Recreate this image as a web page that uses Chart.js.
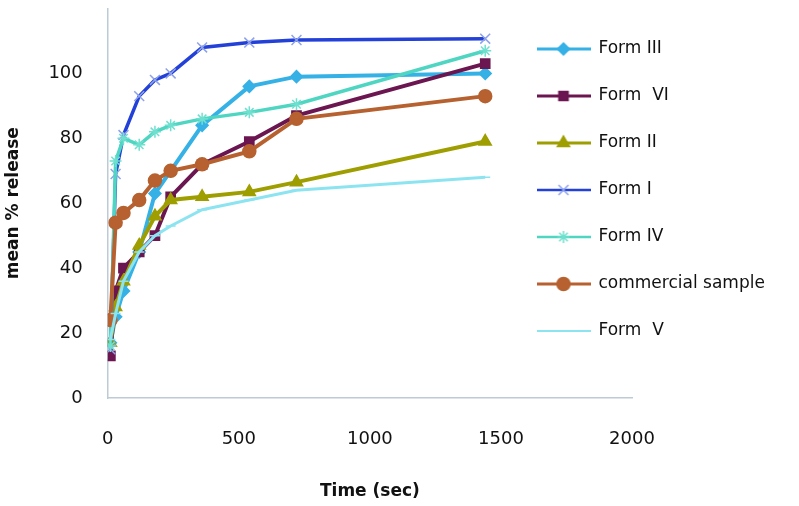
<!DOCTYPE html>
<html>
<head>
<meta charset="utf-8">
<script src="https://cdn.jsdelivr.net/npm/chart.js@4.4.1/dist/chart.umd.min.js"></script>
<style>
  html, body { margin: 0; padding: 0; background: #fff; }
</style>
</head>
<body>
<canvas id="release-chart" width="799" height="506"></canvas>
<script>
// sampling times (sec)
const times = [10, 30, 60, 120, 180, 240, 360, 540, 720, 1440];

// mean % release per form
const formIII = [17, 25, 33, 45, 63, 70, 84, 96, 99, 100];
const formVI = [13, 33, 40, 45, 50, 62, 72, 79, 87, 103];
const formII = [17, 28, 36, 47, 56, 61, 62, 63.5, 66.5, 79];
const formI = [15, 69, 81, 93, 98, 100, 108, 109.5, 110.3, 110.7];
const formIV = [16, 73, 80, 78, 82, 84, 86, 88, 90.5, 107];
const commercial = [24, 54, 57, 61, 67, 70, 72, 76, 86, 93];
const formV = [18, 26, 36, 45, 50, 53, 58, 61, 64, 68];

const seriesNames = ['Form III', 'Form  VI', 'Form II', 'Form I', 'Form IV', 'commercial sample', 'Form  V'];
const seriesValues = [formIII, formVI, formII, formI, formIV, commercial, formV];
const xTicks = [0, 500, 1000, 1500, 2000];
const yTicks = [0, 20, 40, 60, 80, 100];

const looks = [
  { color: '#35b1e6', point: 'rectRot', r: 6, width: 4 },
  { color: '#6b1650', point: 'rect', r: 6.5, width: 4 },
  { color: '#9e9e00', point: 'triangle', r: 7, width: 4 },
  { color: '#2341d8', point: 'crossRot', r: 7, width: 3.5, pointColor: '#8ea2ea' },
  { color: '#4fd6c2', point: 'star', r: 6, width: 3.5, pointColor: '#6fe0cf' },
  { color: '#b6612f', point: 'circle', r: 6.5, width: 4 },
  { color: '#8de4f1', point: 'line', r: 5, width: 3 },
];

// legend icon: line with the marker in the middle
function makeIcon(look) {
  const c = document.createElement('canvas');
  c.width = 54;
  c.height = 20;
  const g = c.getContext('2d');
  g.strokeStyle = look.color;
  g.lineWidth = look.width - 1;
  g.beginPath();
  g.moveTo(0, 10);
  g.lineTo(54, 10);
  g.stroke();
  g.fillStyle = look.pointColor || look.color;
  g.strokeStyle = look.pointColor || look.color;
  g.lineWidth = 1.5;
  Chart.helpers.drawPoint(g, { pointStyle: look.point, radius: look.r, borderWidth: 1.5, rotation: 0 }, 27, 10);
  return c;
}
const icons = looks.map(makeIcon);

const datasets = seriesNames.map((name, i) => ({
  label: name,
  data: times.map((t, j) => ({ x: t, y: seriesValues[i][j] })),
  borderColor: looks[i].color,
  backgroundColor: looks[i].pointColor || looks[i].color,
  pointBorderColor: looks[i].pointColor || looks[i].color,
  pointBackgroundColor: looks[i].pointColor || looks[i].color,
  borderWidth: looks[i].width,
  pointStyle: looks[i].point,
  pointRadius: looks[i].r,
  pointBorderWidth: 1.5,
  tension: 0,
  order: seriesNames.length - i,
}));

// legend sits over the right part of the plot, like the original
const moveLegend = {
  id: 'moveLegend',
  afterLayout(chart) {
    const lg = chart.legend;
    lg.left = 507;
    lg.right = 799;
    lg.width = 292;
    lg.top = chart.chartArea.top + 2;
    lg.bottom = 506;
    lg.height = lg.bottom - lg.top;
  },
};

new Chart(document.getElementById('release-chart'), {
  type: 'line',
  data: { datasets },
  plugins: [moveLegend],
  options: {
    responsive: false,
    animation: false,
    devicePixelRatio: 1,
    layout: { padding: { top: 0, right: 167, bottom: 0, left: 0 } },
    plugins: {
      tooltip: { enabled: false },
      legend: {
        position: 'chartArea',
        align: 'start',
        labels: {
          usePointStyle: true,
          pointStyleWidth: 53,
          padding: 30,
          color: '#111',
          font: { family: 'DejaVu Sans', size: 17 },
          sort: (a, b) => a.datasetIndex - b.datasetIndex,
          generateLabels(chart) {
            const items = Chart.defaults.plugins.legend.labels.generateLabels(chart);
            items.forEach((it) => { it.pointStyle = icons[it.datasetIndex]; });
            return items;
          },
        },
      },
    },
    scales: {
      x: {
        type: 'linear',
        min: 0,
        max: 2000,
        afterBuildTicks(scale) { scale.ticks = xTicks.map((v) => ({ value: v })); },
        ticks: {
          color: '#111',
          padding: 31,
          font: { family: 'DejaVu Sans', size: 18 },
          callback: (v) => String(v),
        },
        grid: { display: false, drawTicks: false },
        border: { color: '#bccbd6', width: 1.5 },
        title: {
          display: true,
          text: 'Time (sec)',
          color: '#111',
          font: { family: 'DejaVu Sans', size: 17, weight: 'bold' },
          padding: { top: 0, bottom: 4 },
        },
      },
      y: {
        min: 0,
        max: 120,
        afterBuildTicks(scale) { scale.ticks = yTicks.map((v) => ({ value: v })); },
        afterFit(scale) { scale.paddingTop = 0; },
        ticks: {
          color: '#111',
          padding: 25,
          font: { family: 'DejaVu Sans', size: 18 },
          callback: (v) => String(v),
        },
        grid: { display: false, drawTicks: false },
        border: { color: '#bccbd6', width: 1.5 },
        title: {
          display: true,
          text: 'mean % release',
          color: '#111',
          font: { family: 'DejaVu Sans', size: 17, weight: 'bold' },
          padding: { top: 3, bottom: 0 },
        },
      },
    },
  },
});
</script>
</body>
</html>
